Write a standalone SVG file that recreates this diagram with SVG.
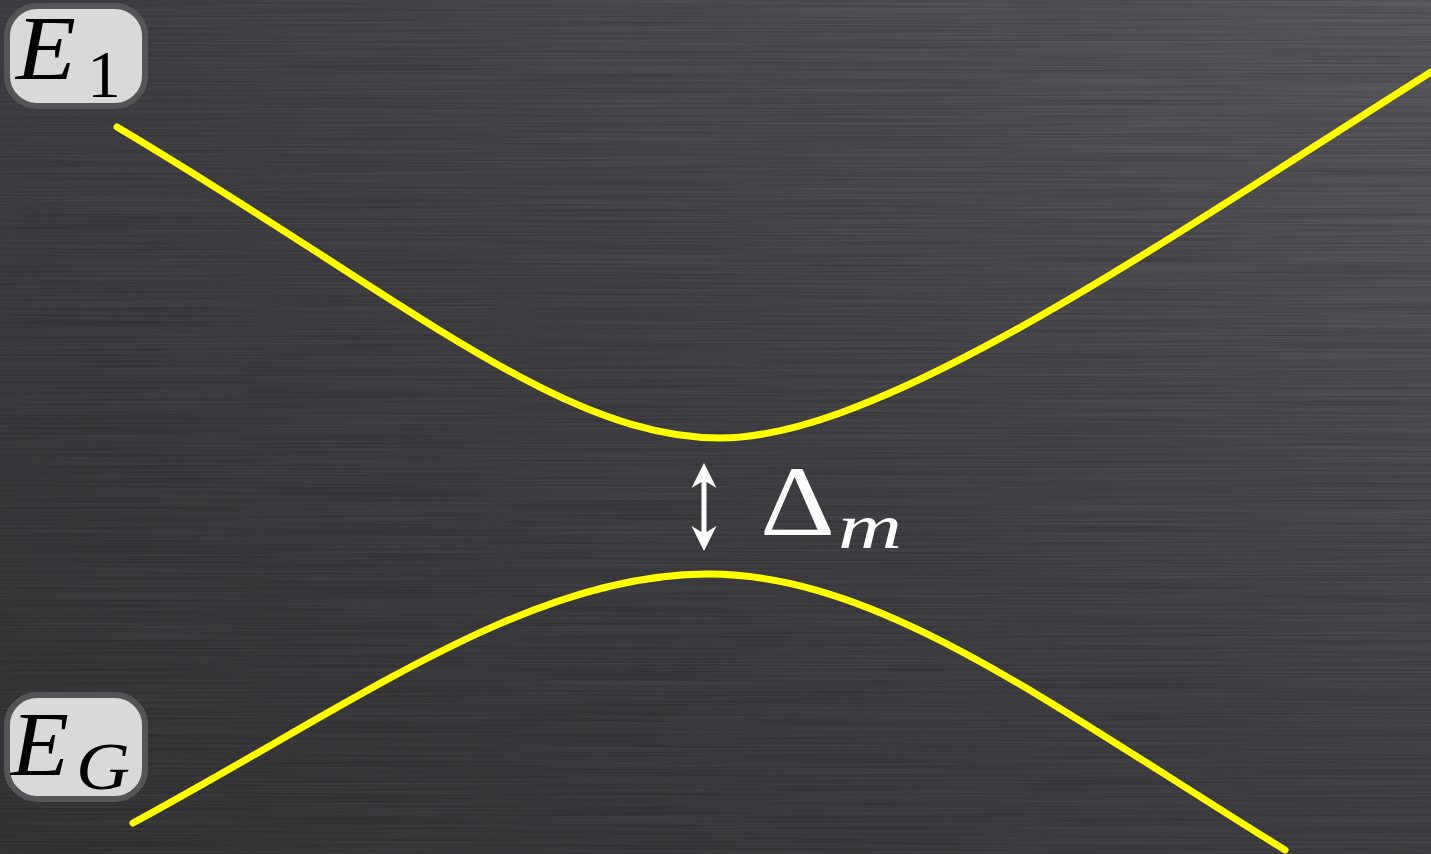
<svg xmlns="http://www.w3.org/2000/svg" width="1431" height="854" viewBox="0 0 1431 854">
<defs>
<linearGradient id="bg" x1="0" y1="1" x2="1" y2="0">
<stop offset="0" stop-color="#38383b"/>
<stop offset="0.5" stop-color="#444448"/>
<stop offset="1" stop-color="#5e5e64"/>
</linearGradient>
<filter id="brush" x="0" y="0" width="1" height="1">
<feTurbulence type="fractalNoise" baseFrequency="0.004 0.6" numOctaves="2" seed="3" result="n"/>
<feColorMatrix in="n" type="matrix" values="0 0 0 0 0  0 0 0 0 0  0 0 0 0 0  0 0 0 0.35 -0.07"/>
</filter>
<marker id="ah" viewBox="0 0 10 10" refX="8" refY="5" markerWidth="5" markerHeight="5" orient="auto-start-reverse" markerUnits="strokeWidth">
<path d="M0,0 L10,5 L0,10 L3,5 Z" fill="#ffffff"/>
</marker>
<style>
.lbl{fill:#d9d9d9;stroke:#555558;stroke-width:6}
.math{font-family:"Liberation Serif",serif;font-style:italic;fill:#000}
.curve{fill:none;stroke:#ffff00;stroke-width:7;stroke-linecap:round}
</style>
</defs>
<rect width="1431" height="854" fill="url(#bg)"/>
<rect width="1431" height="854" filter="url(#brush)"/>
<g id="E1">
<rect class="lbl" x="7" y="6" width="138" height="100" rx="30"/>
<text class="math" x="16" y="79" font-size="90" textLength="60" lengthAdjust="spacingAndGlyphs">E</text>
<text x="87" y="97" font-family="Liberation Serif,serif" font-size="68" fill="#000">1</text>
</g>
<g id="EG">
<rect class="lbl" x="7" y="695" width="138" height="104" rx="30"/>
<text class="math" x="11" y="775" font-size="92" textLength="58" lengthAdjust="spacingAndGlyphs">E</text>
<text class="math" x="76" y="789" font-size="68" textLength="54" lengthAdjust="spacingAndGlyphs">G</text>
</g>
<g id="connectors">
<path class="curve" d="M117,127 C400,295 560,438 720,438 C880,438 1150,250 1431,72"/>
<path class="curve" d="M133,823 C360,700 530,574 708,574 C880,574 1050,705 1285,850"/>
<line x1="704" y1="468" x2="704" y2="546" stroke="#fff" stroke-width="5" marker-start="url(#ah)" marker-end="url(#ah)"/>
</g>
<g id="delta">
<text x="760" y="535" font-family="Liberation Serif,serif" font-size="100" fill="#fff" textLength="75" lengthAdjust="spacingAndGlyphs">Δ</text>
<text class="math" x="838" y="548" font-size="64" style="fill:#fff" textLength="64" lengthAdjust="spacingAndGlyphs">m</text>
</g>
</svg>
